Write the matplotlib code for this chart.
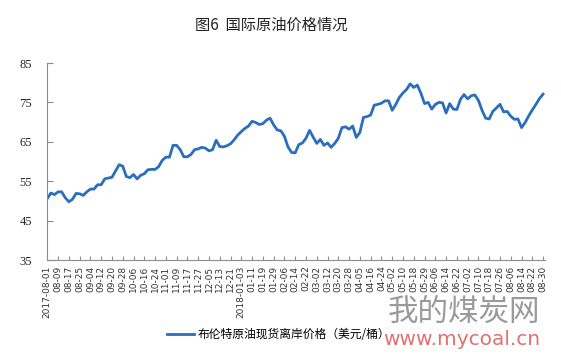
import numpy as np
import matplotlib.pyplot as plt

plt.rcParams['font.family'] = ['Noto Sans CJK SC', 'DejaVu Sans']

# Brent spot price, one value every 2 trading days (2017-08-01 .. 2018-08-30)
brent = [50.6, 52.0, 51.6, 52.3, 52.3, 50.8, 49.8, 50.4, 51.9, 51.8,
         51.4, 52.3, 53.0, 53.0, 54.1, 54.1, 55.6, 55.8, 56.0, 57.6,
         59.2, 58.8, 56.2, 55.9, 56.7, 55.6, 56.5, 56.9, 57.9, 58.0,
         58.0, 58.7, 60.3, 61.1, 61.1, 64.1, 64.1, 63.0, 61.2, 61.2,
         61.8, 63.0, 63.2, 63.6, 63.4, 62.7, 63.0, 65.4, 63.8, 63.7,
         64.0, 64.5, 65.5, 66.7, 67.6, 68.4, 69.0, 70.2, 69.9, 69.4,
         69.6, 70.5, 71.0, 69.3, 68.0, 67.8, 66.4, 63.7, 62.3, 62.2,
         64.3, 64.7, 65.9, 67.9, 66.2, 64.6, 65.6, 64.1, 64.7, 63.6,
         64.6, 65.9, 68.6, 68.8, 68.2, 69.0, 66.1, 67.4, 71.2, 71.4,
         71.8, 74.3, 74.5, 74.8, 75.4, 75.4, 73.0, 74.5, 76.3, 77.4,
         78.3, 79.7, 78.8, 79.4, 77.3, 74.7, 75.0, 73.3, 74.5, 75.0,
         74.9, 72.3, 74.7, 73.3, 73.2, 75.8, 77.0, 75.9, 76.7, 76.9,
         75.5, 73.0, 71.0, 70.8, 72.7, 73.6, 74.5, 72.6, 72.7, 71.5,
         70.7, 70.8, 68.6, 69.9, 71.6, 73.1, 74.5, 76.0, 77.1]

# tick labels, one every 6 trading days
date_labels = ['2017-08-01', '08-09', '08-17', '08-25', '09-04', '09-12', '09-20', '09-28',
               '10-06', '10-16', '10-24', '11-01', '11-09', '11-17', '11-27', '12-05',
               '12-13', '12-21', '2018-01-03', '01-11', '01-19', '01-29', '02-06', '02-14',
               '02-22', '03-02', '03-12', '03-20', '03-28', '04-05', '04-16', '04-24',
               '05-02', '05-10', '05-18', '05-29', '06-06', '06-14', '06-22', '07-02',
               '07-10', '07-18', '07-26', '08-06', '08-14', '08-22', '08-30']
y_ticks = [35, 45, 55, 65, 75, 85]

days = np.arange(len(brent)) * 2  # trading day index

fig = plt.figure(figsize=(5.61, 3.57), dpi=100)
ax = fig.add_axes([0.0843, 0.2717, 0.887, 0.5518])

line, = ax.plot(days, brent, color='#2a6ebd', linewidth=2.0,
                label='布伦特原油现货离岸价格（美元/桶）')

ax.set_ylim(35, 85)
ax.set_yticks(y_ticks, labels=[str(v) for v in y_ticks],
              fontfamily='Liberation Serif', fontsize=9)
ax.set_xlim(0, 277)
ax.set_xticks(days[::3], labels=date_labels, rotation=90,
              fontsize=6.5, fontfamily='DejaVu Sans')

grey = '#8c8c8c'
for s in ['top', 'right']:
    ax.spines[s].set_visible(False)
for s in ['left', 'bottom']:
    ax.spines[s].set_color(grey)
ax.tick_params(axis='y', direction='in', length=4, color=grey, pad=11, labelcolor='#222222')
ax.tick_params(axis='x', direction='in', length=3, color=grey, pad=4, labelcolor='#333333')

fig.text(0.483, 0.93, '图6  国际原油价格情况', ha='center', va='center',
         fontsize=11, color='#222222')

fig.legend(handles=[line], loc='center', bbox_to_anchor=(0.497, 0.062),
           frameon=False, fontsize=8.5, handlelength=2.3, handletextpad=0.3)

# watermark
fig.text(0.963, 0.125, '我的煤炭网', ha='right', va='center', fontsize=22,
         color='#888888', alpha=0.85)
fig.text(0.963, 0.05, 'www.mycoal.cn', ha='right', va='center', fontsize=14.5,
         color='#e0605e', family='DejaVu Sans', alpha=0.9)

fig.savefig('out.png', dpi=100)
